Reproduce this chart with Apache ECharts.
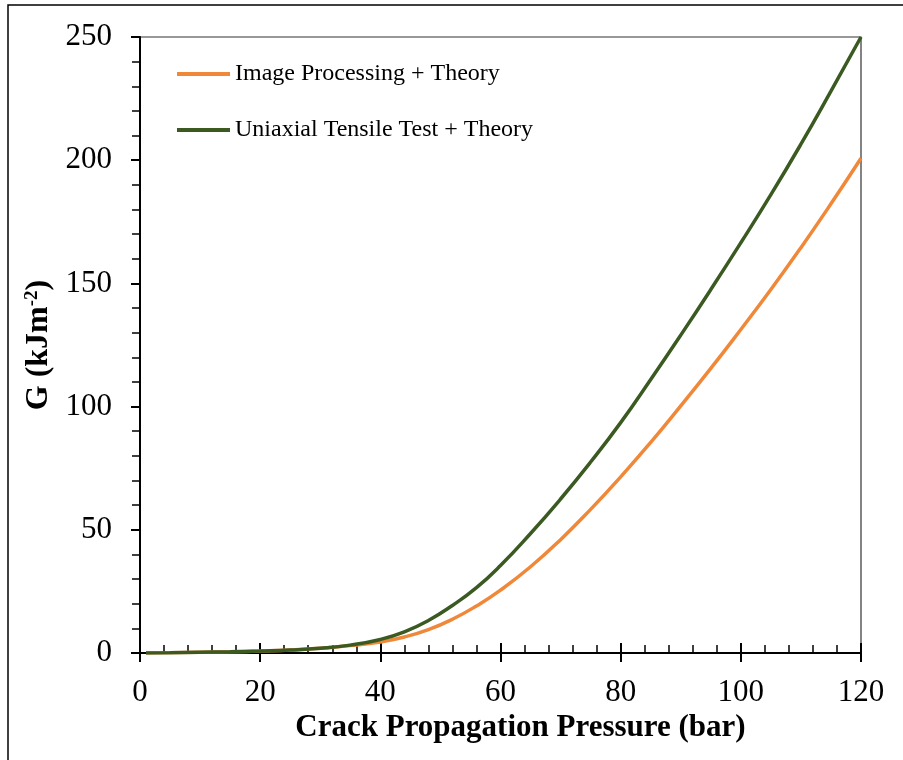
<!DOCTYPE html>
<html>
<head>
<meta charset="utf-8">
<script src="https://cdn.jsdelivr.net/npm/echarts@6/dist/echarts.min.js"></script>
<style>
  html, body { margin: 0; padding: 0; background: #fff; }
  #chart { width: 903px; height: 760px; }
</style>
</head>
<body>
<div id="chart"></div>
<script>
// Crack propagation pressure (bar)
const pressure = [1, 5, 10, 15, 20, 25, 30, 35, 40, 44, 48, 52, 56, 60, 65, 70, 75, 80, 85, 90, 95, 100, 105, 110, 115, 120];
// Energy release rate G (kJ/m^2)
const imageProcessing = [0.05, 0.15, 0.3, 0.5, 0.8, 1.2, 1.9, 3.0, 4.5, 6.5, 9.5, 13.7, 19.1, 25.5, 35.0, 46.0, 58.3, 71.5, 85.5, 100.3, 115.5, 131.3, 147.5, 164.5, 182.3, 200.8];
const uniaxialTensile = [0.05, 0.15, 0.3, 0.5, 0.8, 1.2, 1.9, 3.2, 5.5, 8.6, 13.2, 19.3, 26.5, 35.5, 48.5, 62.5, 77.5, 93.5, 111.0, 129.0, 147.5, 166.5, 186.0, 206.5, 228.0, 250.0];
const seriesNames = ['Image Processing + Theory', 'Uniaxial Tensile Test + Theory'];
const seriesColors = ['#F0883A', '#3A5A22'];

const pairs = (xs, ys) => xs.map((x, i) => [x, ys[i]]);
const serif = 'Liberation Serif';

const chart = echarts.init(document.getElementById('chart'), null, { renderer: 'canvas' });

const xCommon = {
  type: 'value', min: 0, max: 120, interval: 20,
  splitLine: { show: false }
};
const yCommon = {
  type: 'value', min: 0, max: 250, interval: 50,
  splitLine: { show: false }
};

chart.setOption({
  animation: false,
  backgroundColor: '#fff',
  grid: {
    left: 140, top: 37, right: 42, bottom: 107,
    show: true, borderColor: '#333', borderWidth: 1.2, backgroundColor: 'transparent'
  },
  legend: {
    orient: 'vertical', left: 177, top: 62, padding: 0,
    itemWidth: 53, itemHeight: 24, itemGap: 32,
    textStyle: { fontFamily: serif, fontSize: 24, color: '#000', lineHeight: 24 },
    data: seriesNames.map((n, i) => ({
      name: n,
      icon: 'path://M0,0 L53,0 L53,4 L0,4 Z',
      itemStyle: { color: seriesColors[i] }
    }))
  },
  xAxis: [
    Object.assign({}, xCommon, {
      position: 'bottom',
      axisLine: { lineStyle: { color: '#000', width: 2 } },
      axisTick: { inside: true, length: 10, lineStyle: { color: '#000', width: 2 } },
      minorTick: { show: true, splitNumber: 5, length: 8, lineStyle: { color: '#000', width: 1.5 } },
      axisLabel: { margin: 24, fontFamily: serif, fontSize: 31, color: '#000' },
      name: 'Crack Propagation Pressure (bar)',
      nameLocation: 'middle', nameGap: 59,
      nameTextStyle: { fontFamily: serif, fontSize: 31, fontWeight: 'bold', color: '#000', padding: [0, 0, 0, 40] }
    }),
    Object.assign({}, xCommon, {
      position: 'bottom',
      axisLine: { show: false },
      axisTick: { inside: false, length: 9, lineStyle: { color: '#000', width: 2 } },
      axisLabel: { show: false }
    })
  ],
  yAxis: [
    Object.assign({}, yCommon, {
      position: 'left',
      axisLine: { lineStyle: { color: '#000', width: 2 } },
      axisTick: { inside: false, length: 9, lineStyle: { color: '#000', width: 2 } },
      axisLabel: { margin: 28, fontFamily: serif, fontSize: 31, color: '#000' },
      name: '{a|G (kJm}{s|-2}{a|)}',
      nameLocation: 'middle', nameGap: 84,
      nameTextStyle: {
        rich: {
          a: { fontFamily: serif, fontSize: 32, fontWeight: 'bold', color: '#000' },
          s: { fontFamily: serif, fontSize: 19, fontWeight: 'bold', color: '#000', verticalAlign: 'top', padding: [0, 0, 12, 0] }
        }
      }
    }),
    Object.assign({}, yCommon, {
      position: 'left',
      axisLine: { show: false },
      axisTick: { show: false },
      minorTick: { show: true, splitNumber: 5, length: 8, lineStyle: { color: '#000', width: 1.5 } },
      axisLabel: { show: false }
    })
  ],
  series: [
    {
      name: seriesNames[0], type: 'line', xAxisIndex: 0, yAxisIndex: 0,
      data: pairs(pressure, imageProcessing),
      smooth: 0.5, symbol: 'none', z: 3,
      itemStyle: { color: seriesColors[0] },
      lineStyle: { color: seriesColors[0], width: 3.5 }
    },
    {
      name: seriesNames[1], type: 'line', xAxisIndex: 0, yAxisIndex: 0,
      data: pairs(pressure, uniaxialTensile),
      smooth: 0.5, symbol: 'none', z: 4,
      itemStyle: { color: seriesColors[1] },
      lineStyle: { color: seriesColors[1], width: 3.5 }
    }
  ],
  graphic: [
    {
      type: 'rect', silent: true, z: 0,
      shape: { x: 8, y: 5, width: 1000, height: 1000 },
      style: { fill: 'none', stroke: '#000', lineWidth: 1.5 }
    }
  ]
});
</script>
</body>
</html>
